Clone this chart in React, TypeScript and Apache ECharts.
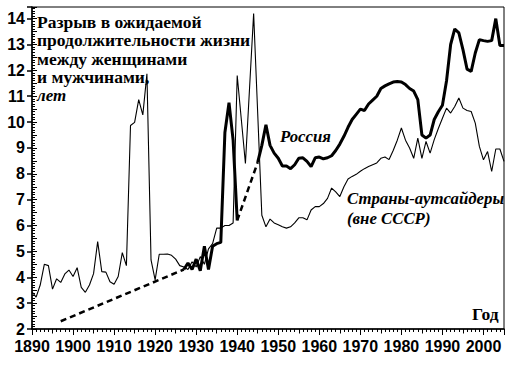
import React, { useEffect, useRef } from "react";
import * as echarts from "echarts";

// Gap in life expectancy between women and men, years
const outsiderStart = 1890;
const outsiderGap = [
  3.44, 3.23, 3.7, 4.5, 4.45, 3.54, 3.94, 3.8, 4.13, 4.28,
  4.03, 4.37, 3.61, 3.42, 3.7, 4.14, 5.38, 4.22, 4.2, 3.83,
  3.73, 4.03, 4.95, 4.45, 9.87, 9.99, 10.87, 10.28, 11.87, 4.67,
  3.9, 4.89, 4.89, 4.9, 4.85, 4.7, 4.45, 4.4, 4.3, 4.6,
  4.4, 4.8, 4.5, 5.1, 5.3, 5.9, 5.9, 6.0, 6.0, 6.1,
  11.8, 10.1, 8.4, 11.3, 14.2, 10.3, 6.4, 5.95, 6.25, 6.1,
  6.03, 5.95, 5.9, 5.95, 6.1, 6.3, 6.3, 6.22, 6.6, 6.73,
  6.73, 6.85, 7.05, 7.45, 7.3, 7.12, 7.5, 7.8, 7.9, 7.98,
  8.1, 8.2, 8.28, 8.35, 8.42, 8.6, 8.65, 8.55, 8.9, 9.3,
  9.77, 9.3, 9.0, 8.6, 9.38, 8.6, 9.25, 8.8, 9.32, 9.75,
  10.15, 10.54, 10.35, 10.6, 10.93, 10.54, 10.45, 10.41, 9.96, 9.06,
  8.54, 8.86, 8.09, 8.96, 8.96, 8.48,
];

const russiaPreWarStart = 1927;
const russiaPreWarGap = [
  4.3, 4.55, 4.3, 4.7, 4.25, 5.2, 4.3, 5.2, 5.3, 5.35, 9.6, 10.75, 9.3, 6.2,
];

const russiaPostWarStart = 1945;
const russiaPostWarGap = [
  8.45, 9.1, 9.9, 9.1, 8.8, 8.6, 8.3, 8.3, 8.2, 8.35,
  8.6, 8.62, 8.48, 8.28, 8.62, 8.65, 8.58, 8.62, 8.7, 8.9,
  9.15, 9.45, 9.8, 10.1, 10.3, 10.5, 10.45, 10.7, 10.85, 11.0,
  11.3, 11.4, 11.48, 11.55, 11.57, 11.55, 11.45, 11.3, 11.2, 10.87,
  9.5, 9.38, 9.5, 10.1, 10.4, 10.65, 11.6, 13.0, 13.6, 13.45,
  12.8, 12.05, 11.96, 12.67, 13.19, 13.15, 13.12, 13.15, 14.0, 12.96,
  12.96,
];

const estimateEarlyYears = [1897, 1927];
const estimateEarlyGap = [2.3, 4.3];
const estimateWarYears = [1940, 1945];
const estimateWarGap = [6.2, 8.45];

const titleLines = [
  "Разрыв в ожидаемой",
  "продолжительности жизни",
  "между женщинами",
  "и мужчинами,",
];
const titleUnit = "лет";
const russiaLabel = "Россия";
const outsiderLabel1 = "Страны-аутсайдеры";
const outsiderLabel2 = "(вне СССР)";
const xAxisName = "Год";

const X_MIN = 1890;
const X_MAX = 2005;
const Y_MIN = 2;
const Y_MAX = 14.45;

function toPairs(start: number, values: number[]) {
  return values.map((v, i) => [start + i, v]);
}
function zipPairs(xs: number[], ys: number[]) {
  return xs.map((x, i) => [x, ys[i]]);
}

export default function App() {
  const ref = useRef<HTMLDivElement>(null);
  useEffect(() => {
    if (!ref.current) return;
    const chart = echarts.init(ref.current, null, { renderer: "svg" });
    const black = "#000";
    const serif = "Liberation Serif";
    const sans = "Liberation Sans";
    const baseX = {
      type: "value",
      min: X_MIN,
      max: X_MAX,
      gridIndex: 0,
      position: "bottom",
      splitLine: { show: false },
    };
    const baseY = {
      type: "value",
      min: Y_MIN,
      max: Y_MAX,
      gridIndex: 0,
      position: "left",
      splitLine: { show: false },
    };
    const txt = (text: string, x: number, top: number, italic: boolean, size: number) => ({
      type: "text",
      x,
      y: top,
      z: 100,
      style: {
        text,
        fontFamily: serif,
        fontWeight: "bold",
        fontStyle: italic ? "italic" : "normal",
        fontSize: size,
        fill: black,
      },
    });
    const titleTops = [12.5, 31, 49.5, 68];
    const graphics: any[] = titleLines.map((t, i) => txt(t, 37, titleTops[i], false, 17.5));
    graphics.push(txt(titleUnit, 37, 86.5, true, 17));
    graphics.push(txt(russiaLabel, 280, 128, true, 16.8));
    graphics.push(txt(outsiderLabel1, 347, 190, true, 16.8));
    graphics.push(txt(outsiderLabel2, 347, 209.5, true, 16.8));
    graphics.push(txt(xAxisName, 472, 304.5, false, 17.5));

    chart.setOption({
      animation: false,
      backgroundColor: "#fff",
      grid: {
        left: 32,
        right: 18,
        top: 7,
        bottom: 37,
        show: true,
        borderColor: black,
        borderWidth: 1,
        backgroundColor: "transparent",
      },
      xAxis: [
        {
          ...baseX,
          interval: 10,
          axisLine: { show: true, onZero: false, lineStyle: { color: black, width: 1.5 } },
          axisTick: { show: true, length: 6, lineStyle: { color: black, width: 1 } },
          axisLabel: {
            show: true,
            margin: 9,
            color: black,
            fontFamily: sans,
            fontWeight: "bold",
            fontSize: 16,
            formatter: (v: number) => (v % 10 === 0 && v <= 2000 ? String(v) : ""),
          },
        },
        {
          ...baseX,
          interval: 5,
          axisLine: { show: false, onZero: false },
          axisTick: { show: true, length: 4.5, lineStyle: { color: black, width: 1 } },
          axisLabel: { show: false },
        },
        {
          ...baseX,
          interval: 1,
          axisLine: { show: false, onZero: false },
          axisTick: { show: true, length: 3, lineStyle: { color: black, width: 1 } },
          axisLabel: { show: false },
        },
      ],
      yAxis: [
        {
          ...baseY,
          interval: 1,
          axisLine: { show: true, onZero: false, lineStyle: { color: black, width: 1.5 } },
          axisTick: { show: true, length: 5, lineStyle: { color: black, width: 1.5 } },
          axisLabel: {
            show: true,
            margin: 7,
            color: black,
            fontFamily: sans,
            fontWeight: "bold",
            fontSize: 16,
            formatter: (v: number) =>
              Math.abs(v - Math.round(v)) < 1e-6 && v <= 14 ? String(Math.round(v)) : "",
          },
        },
        {
          ...baseY,
          interval: 0.5,
          axisLine: { show: false, onZero: false },
          axisTick: { show: true, inside: true, length: 5, lineStyle: { color: black, width: 1 } },
          axisLabel: { show: false },
        },
        {
          ...baseY,
          interval: 0.1,
          axisLine: { show: false, onZero: false },
          axisTick: { show: true, inside: true, length: 3, lineStyle: { color: black, width: 1 } },
          axisLabel: { show: false },
        },
      ],
      series: [
        {
          type: "line",
          data: toPairs(outsiderStart, outsiderGap),
          symbol: "none",
          lineStyle: { color: black, width: 1.1 },
          z: 3,
        },
        {
          type: "line",
          data: toPairs(russiaPreWarStart, russiaPreWarGap),
          symbol: "none",
          lineStyle: { color: black, width: 3 },
          z: 4,
        },
        {
          type: "line",
          data: toPairs(russiaPostWarStart, russiaPostWarGap),
          symbol: "none",
          lineStyle: { color: black, width: 3 },
          z: 4,
        },
        {
          type: "line",
          data: zipPairs(estimateEarlyYears, estimateEarlyGap),
          symbol: "none",
          lineStyle: { color: black, width: 2.5, type: [6, 4] },
          z: 4,
        },
        {
          type: "line",
          data: zipPairs(estimateWarYears, estimateWarGap),
          symbol: "none",
          lineStyle: { color: black, width: 2.5, type: [6, 4] },
          z: 4,
        },
      ],
      graphic: graphics,
    });
    return () => chart.dispose();
  }, []);
  return (
    <div
      ref={ref}
      style={{ position: "fixed", left: 0, top: 0, width: 522, height: 366, background: "#fff" }}
    />
  );
}
